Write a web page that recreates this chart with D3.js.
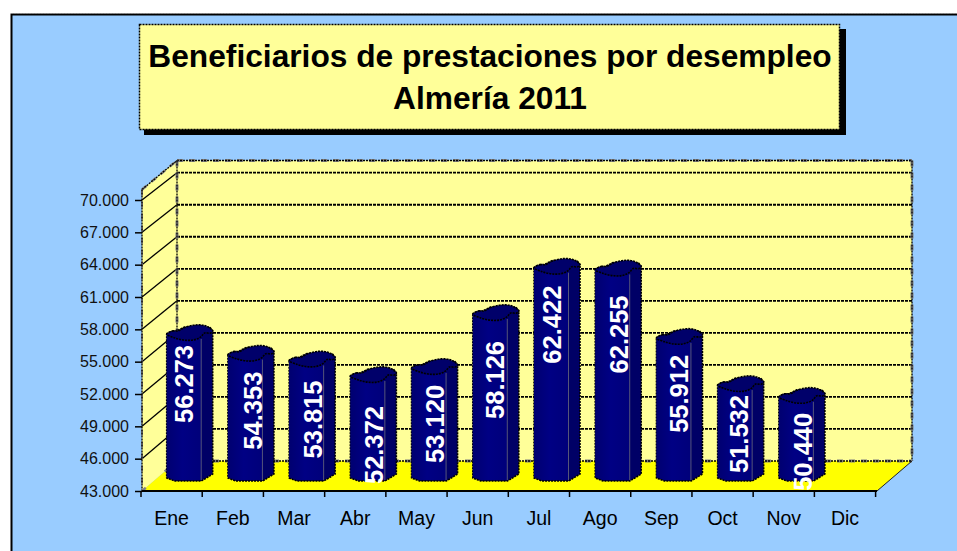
<!DOCTYPE html>
<html><head><meta charset="utf-8">
<script src="https://cdnjs.cloudflare.com/ajax/libs/d3/7.8.5/d3.min.js"></script>
<style>html,body{margin:0;padding:0;background:#fff;overflow:hidden}svg{display:block}text{font-family:"Liberation Sans",Arial,sans-serif}</style>
</head><body><svg id="c" width="957" height="551"></svg>
<script>
const months=["Ene","Feb","Mar","Abr","May","Jun","Jul","Ago","Sep","Oct","Nov","Dic"];
const values=[56273,54353,53815,52372,53120,58126,62422,62255,55912,51532,50440];
const yTicks=[43000,46000,49000,52000,55000,58000,61000,64000,67000,70000];
const titleLines=["Beneficiarios de prestaciones por desempleo","Almería 2011"];
// hand placement of the rotated labels in the original, in pixels
const labelNudgeX=[-4.5,3.3,1.3,1.3,1,0,-4,2,0,-1,2];
const labelNudgeY=[-6,0,3,13,0,10,1,9,0,-7,-1];

const svg=d3.select("#c");
const fmt=d3.formatLocale({decimal:",",thousands:".",grouping:[3],currency:["","€"]}).format(",d");
const W={x0:142,x1:877};
const yF=d3.scaleLinear().domain([43000,70000]).range([491,200]);
const yB=d3.scaleLinear().domain([43000,70000]).range([461,172.7]);
const x=d3.scaleBand().domain(months).range([141,875.6]);
const topFront=189.5,topBack=160.5,backR=912;

svg.append("rect").attr("x",11.5).attr("y",14.5).attr("width",960).attr("height",560)
 .attr("fill","#99CCFF").attr("stroke","#000").attr("stroke-width",2);
svg.append("line").attr("x1",11).attr("x2",957).attr("y1",13.5).attr("y2",13.5)
 .attr("stroke","#888").attr("stroke-dasharray","2,1");

// title box
svg.append("rect").attr("x",144).attr("y",29).attr("width",702).attr("height",106).attr("fill","#000");
svg.append("rect").attr("x",139.5).attr("y",24.5).attr("width",700).attr("height",105)
 .attr("fill","#FFFF99").attr("stroke","#000").attr("stroke-width",1.5).attr("stroke-dasharray","2,1");
svg.append("g").selectAll("text").data(titleLines).join("text")
 .attr("x",490).attr("y",(d,i)=>i?109:67).attr("text-anchor","middle")
 .attr("font-weight","bold").attr("font-size",31.7).attr("fill","#000").text(d=>d);

// walls and floor
const line=d3.line();
const plot=svg.append("g");
plot.append("path").attr("d",line([[W.x0,topFront],[177,topBack],[177,461],[W.x0,491]])+"Z").attr("fill","#FFFF99");
plot.append("rect").attr("x",177).attr("y",topBack).attr("width",backR-177).attr("height",461-topBack).attr("fill","#FFFF99");
plot.append("path").attr("d",line([[W.x0,491],[177,461],[backR,461],[W.x1,491]])+"Z").attr("fill","#FFFF00");

// grid
plot.append("g").selectAll("line").data(yTicks.slice(1)).join("line")
 .attr("x1",177).attr("x2",backR).attr("y1",d=>yB(d)).attr("y2",d=>yB(d))
 .attr("stroke","#000").attr("stroke-width",1.8).attr("stroke-dasharray","3,1");
plot.append("g").selectAll("line").data(yTicks.slice(1)).join("line")
 .attr("x1",W.x0).attr("x2",177).attr("y1",d=>yF(d)).attr("y2",d=>yB(d))
 .attr("stroke","#000").attr("stroke-width",1.3);

// wall edges: grey dashes with black dots over them
const edge=(pts,greyW)=>{
 plot.append("path").attr("d",line(pts)).attr("fill","none").attr("stroke","#808080").attr("stroke-width",greyW).attr("stroke-dasharray","6,6");
 plot.append("path").attr("d",line(pts)).attr("fill","none").attr("stroke","#000").attr("stroke-width",1.3).attr("stroke-dasharray","2,1");
};
edge([[177,topBack],[backR,topBack]],3);
edge([[backR,topBack],[backR,461]],3);
edge([[177,topBack],[177,461]],3);
edge([[W.x0,topFront],[177,topBack]],2.5);
edge([[W.x0,topFront],[W.x0,491]],2);
edge([[177,461],[backR,461]],3);
plot.append("line").attr("x1",W.x0).attr("x2",177).attr("y1",491).attr("y2",461).attr("stroke","#808080").attr("stroke-width",2.5).attr("stroke-dasharray","5,25");
plot.append("line").attr("x1",W.x1).attr("x2",backR).attr("y1",491).attr("y2",461).attr("stroke","#222").attr("stroke-width",1);
plot.append("line").attr("x1",W.x0).attr("x2",W.x1).attr("y1",491).attr("y2",491).attr("stroke","#000").attr("stroke-width",2);

// axes
const yAxis=svg.append("g").attr("transform","translate(142,0)")
 .call(d3.axisLeft(yF).tickValues(yTicks).tickFormat(fmt).tickSize(7).tickPadding(5));
yAxis.select(".domain").remove();
yAxis.selectAll("line").attr("stroke","#000").attr("stroke-width",1.5);
yAxis.selectAll("text").attr("font-size",16).attr("fill","#111").attr("dx",-1);
const xAxis=svg.append("g").attr("transform","translate(0,491)")
 .call(d3.axisBottom(x).tickSize(0));
xAxis.select(".domain").remove();
xAxis.selectAll("text").attr("font-size",19.5).attr("fill","#000").attr("dy",0).attr("y",34);
const edges=d3.range(months.length+1).map(i=>141+i*x.step());
svg.append("g").selectAll("line").data(edges).join("line")
 .attr("x1",d=>d).attr("x2",d=>d).attr("y1",491).attr("y2",497).attr("stroke","#000").attr("stroke-width",1.5);

// bars
const barG=svg.append("g");
const defs=svg.append("defs");
const gr=defs.append("linearGradient").attr("id","face");
gr.append("stop").attr("offset","0").attr("stop-color","#000070");
gr.append("stop").attr("offset","0.45").attr("stop-color","#000084");
gr.append("stop").attr("offset","1").attr("stop-color","#00007a");
const ink=s=>s.attr("stroke","#000").attr("stroke-width",1.6).attr("stroke-dasharray","2,1").attr("stroke-linejoin","round");
const faceW=34.5,totW=46,shift=25.7,base=yF(43000)-10;
const soft=d3.line().curve(d3.curveCatmullRomClosed.alpha(1));
values.forEach((v,i)=>{
 const x0=x(months[i])+shift, T=yF(v)-11, g=barG.append("g");
 const P=(dx,dy)=>[x0+dx,T+dy], B=(dx,dy)=>[x0+dx,base+dy];
 // silhouette, side, face, then the top cap and the seam
 g.append("path").attr("d",line([P(0,-3),P(5,-6),P(10,-6),P(18,-10),P(43,-10),P(46,-6),B(46,-7),B(38,-2),B(34.5,0),B(8,0),B(0,-3)])+"Z")
  .attr("fill","#000066").call(ink);
 g.append("path").attr("d",line([P(0,-3),P(8,1),P(faceW,0),B(faceW,-1),B(8,-1),B(0,-4)])+"Z").attr("fill","url(#face)");
 g.append("path").attr("d",soft([P(0,-3),P(6,-6),P(11,-6),P(18,-9.5),P(42,-9.5),P(46,-6),P(44,-4),P(38,-4),P(34,0),P(8,1)])).attr("fill","#00006a").call(ink);
 g.append("line").attr("x1",x0+faceW).attr("x2",x0+faceW).attr("y1",T+2).attr("y2",base-1).attr("stroke","#55557a").attr("stroke-width",1);
});
// value labels
svg.append("g").selectAll("text").data(values).join("text")
 .attr("transform",(v,i)=>`translate(${x(months[i])+shift+22+labelNudgeX[i]},${yF(v)+3+labelNudgeY[i]}) rotate(-90)`)
 .attr("text-anchor","end").attr("dy","0.36em")
 .attr("font-weight","bold").attr("font-size",25.5).attr("fill","#fff").text(fmt);
</script></body></html>
